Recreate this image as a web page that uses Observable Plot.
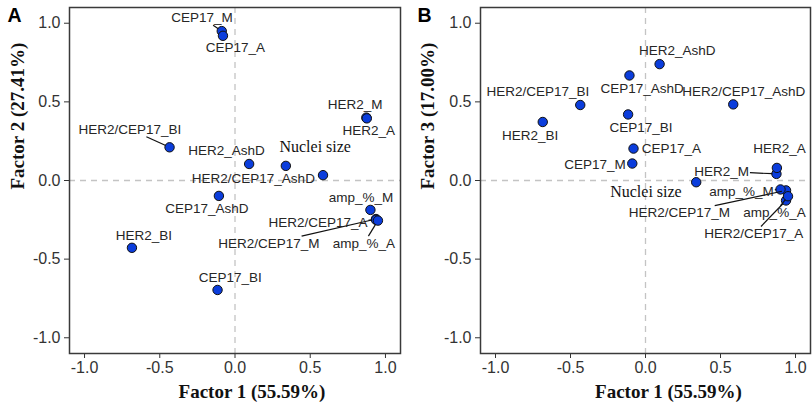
<!DOCTYPE html>
<html><head><meta charset="utf-8">
<script src="https://cdn.jsdelivr.net/npm/d3@7"></script>
<script src="https://cdn.jsdelivr.net/npm/@observablehq/plot@0.6"></script>
<style>
body{margin:0;background:#fff;}
#wrap{display:flex;width:812px;height:404px;overflow:hidden;}
#wrap svg{overflow:visible;}
</style></head><body><div id="wrap"></div>
<script>
// ---- data ----
const variables = ["CEP17_M","CEP17_A","CEP17_AshD","CEP17_BI","HER2_M","HER2_A","HER2_AshD","HER2_BI","HER2/CEP17_M","HER2/CEP17_A","HER2/CEP17_AshD","HER2/CEP17_BI","amp_%_M","amp_%_A","Nuclei size"];
const factor1 = [-0.088,-0.080,-0.107,-0.116,0.873,0.876,0.094,-0.685,0.937,0.937,0.585,-0.435,0.900,0.950,0.338];
const factor2 = [0.950,0.920,-0.098,-0.696,0.400,0.395,0.105,-0.428,-0.245,-0.250,0.034,0.211,-0.187,-0.255,0.093];
const factor3 = [0.108,0.203,0.668,0.420,0.042,0.080,0.740,0.372,-0.063,-0.127,0.484,0.480,-0.057,-0.100,-0.011];
// repelled label anchors (data units), panel A (Factor 1 vs 2)
const labelA_x = [-0.219,0.003,-0.187,-0.032,0.799,0.889,-0.056,-0.606,0.225,0.552,0.122,-0.698,0.837,0.856,0.533];
const labelA_y = [1.035,0.846,-0.178,-0.617,0.479,0.315,0.192,-0.348,-0.401,-0.270,0.011,0.326,-0.109,-0.401,0.212];
// panel B (Factor 1 vs 3)
const labelB_x = [-0.337,0.173,-0.022,-0.030,0.507,0.893,0.211,-0.769,0.226,0.722,0.655,-0.717,0.640,0.860,0.003];
const labelB_y = [0.100,0.202,0.581,0.336,0.058,0.202,0.823,0.288,-0.207,-0.340,0.567,0.563,-0.070,-0.207,-0.070];
const segmentsA = ["CEP17_M","HER2/CEP17_BI","HER2/CEP17_A","HER2/CEP17_M","amp_%_A"];
const segmentsB = ["HER2_M","amp_%_M","HER2/CEP17_M","amp_%_A","HER2/CEP17_A"];
const ticks = [-1,-0.5,0,0.5,1];
const xTitle = "Factor 1 (55.59%)";
const yTitleA = "Factor 2 (27.41%)";
const yTitleB = "Factor 3 (17.00%)";
const serifVar = "Nuclei size";

// ---- drawing ----
const SANS = "'Liberation Sans', Arial, sans-serif";
const SERIF = "'Liberation Serif', 'Times New Roman', serif";
const ctx = document.createElement("canvas").getContext("2d");
function textWidth(s, font){ ctx.font = font; return ctx.measureText(s).width; }

function panel({fy, lx, ly, segs, yTitle, letter, width, marginLeft, marginRight, titleDx, yTitleDx, letterDx}) {
  const height = 404, marginTop = 7, marginBottom = 51;
  const kx = (width - marginLeft - marginRight) / 2.2;
  const ky = (height - marginTop - marginBottom) / 2.2;
  const rows = variables.map((v, i) => ({name: v, x: factor1[i], y: fy[i], lx: lx[i], ly: ly[i], serif: v === serifVar}));
  const links = rows.filter(d => segs.includes(d.name)).map(d => {
    const font = d.serif ? `16px ${SERIF}` : `13.5px ${SANS}`;
    const hw = textWidth(d.name, font) / 2 + 1, hh = 7.5;
    const px = (d.x - d.lx) * kx, py = -(d.y - d.ly) * ky;
    const t = Math.min(hw / Math.max(Math.abs(px), 1e-9), hh / Math.max(Math.abs(py), 1e-9));
    const len = Math.hypot(px, py), r = 4.2;
    return {
      x1: d.lx + px * t / kx, y1: d.ly - py * t / ky,
      x2: d.lx + px * (1 - r / len) / kx, y2: d.ly - py * (1 - r / len) / ky
    };
  });
  return Plot.plot({
    width, height, marginTop, marginBottom, marginLeft, marginRight,
    x: {domain: [-1.1, 1.1]},
    y: {domain: [-1.1, 1.1]},
    style: {fontFamily: SANS, fontSize: "16px", color: "#333", background: "#fff"},
    marks: [
      Plot.ruleX([0], {stroke: "#c4c4c4", strokeDasharray: "6,5", strokeWidth: 1.3}),
      Plot.ruleY([0], {stroke: "#c4c4c4", strokeDasharray: "6,5", strokeWidth: 1.3}),
      Plot.axisX({ticks, tickFormat: d => d.toFixed(1), tickSize: 5, tickPadding: 3, label: null, fontSize: 16}),
      Plot.axisY({ticks, tickFormat: d => d.toFixed(1), tickSize: 5, tickPadding: 4, label: null, fontSize: 16}),
      Plot.frame({stroke: "#3a3a3a", strokeWidth: 1.5}),
      Plot.dot(rows, {x: "x", y: "y", r: 4.7, fill: "#0b3ddc", stroke: "#111", strokeWidth: 1}),
      Plot.link(links, {x1: "x1", y1: "y1", x2: "x2", y2: "y2", stroke: "#111", strokeWidth: 1.2}),
      Plot.text(rows.filter(d => !d.serif), {x: "lx", y: "ly", text: "name", fontSize: 13.5, fontFamily: SANS, fill: "#262626"}),
      Plot.text(rows.filter(d => d.serif), {x: "lx", y: "ly", text: "name", fontSize: 16, fontFamily: SERIF, fill: "#111"}),
      Plot.text([xTitle], {frameAnchor: "bottom", dx: titleDx, dy: 44, text: d => d, fontSize: 19, fontWeight: "bold", fontFamily: SERIF, fill: "#111"}),
      Plot.text([yTitle], {frameAnchor: "left", rotate: -90, dx: yTitleDx, dy: 9, text: d => d, fontSize: 19, fontWeight: "bold", fontFamily: SERIF, fill: "#111"}),
      Plot.text([letter], {frameAnchor: "top-left", dx: letterDx, dy: 1, text: d => d, textAnchor: "start", lineAnchor: "top", fontSize: 19.5, fontWeight: "bold", fontFamily: SANS, fill: "#000"})
    ]
  });
}

const wrap = document.getElementById("wrap");
wrap.appendChild(panel({fy: factor2, lx: labelA_x, ly: labelA_y, segs: segmentsA, yTitle: yTitleA, letter: "A",
  width: 405, marginLeft: 69, marginRight: 5, titleDx: 17, yTitleDx: -51.5, letterDx: -62}));
wrap.appendChild(panel({fy: factor3, lx: labelB_x, ly: labelB_y, segs: segmentsB, yTitle: yTitleB, letter: "B",
  width: 407, marginLeft: 75, marginRight: 2, titleDx: 23, yTitleDx: -52.5, letterDx: -63}));
</script></body></html>
